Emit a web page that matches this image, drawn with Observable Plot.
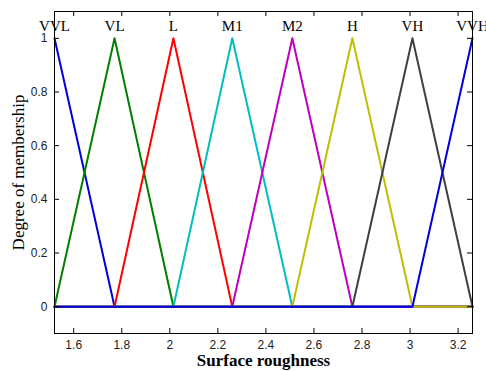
<!DOCTYPE html>
<html>
<head>
<meta charset="utf-8">
<script src="https://cdn.jsdelivr.net/npm/d3@7"></script>
<script src="https://cdn.jsdelivr.net/npm/@observablehq/plot@0.6"></script>
<style>
  body { margin: 0; background: #fff; }
</style>
</head>
<body>
<div id="chart"></div>
<script>
// Triangular membership functions for surface roughness
const names = ["VVL", "VL", "L", "M1", "M2", "H", "VH", "VVH"];
const peaks = [1.52, 1.77, 2.015, 2.26, 2.51, 2.76, 3.01, 3.26];
const peakDegree = 1;
const colors = ["#0000e0", "#008000", "#ff0000", "#00bfbf", "#bf00bf", "#bfbf00", "#404040", "#0000e0"];
const xTicks = [1.6, 1.8, 2, 2.2, 2.4, 2.6, 2.8, 3, 3.2];
const yTicks = [0, 0.2, 0.4, 0.6, 0.8, 1];
const xDomain = [1.52, 3.26];
const yDomain = [-0.1, 1.1];
const xLabel = "Surface roughness";
const yLabel = "Degree of membership";

const W = 486, H = 371;
const mL = 54, mR = 14, mT = 11, mB = 38;
const innerW = W - mL - mR, innerH = H - mT - mB;
const tickLen = 5;

// Each function is drawn across the whole universe, zero outside its support
function mfPoints(i) {
  const pts = [];
  if (i > 0) {
    pts.push({x: xDomain[0], y: 0});
    pts.push({x: peaks[i - 1], y: 0});
  }
  pts.push({x: peaks[i], y: peakDegree});
  if (i < peaks.length - 1) {
    pts.push({x: peaks[i + 1], y: 0});
    pts.push({x: xDomain[1], y: 0});
  }
  return pts;
}

const mfs = names.map((name, i) => ({name, peak: peaks[i], degree: peakDegree}));

const lines = names.map((name, i) =>
  Plot.line(mfPoints(i), {x: "x", y: "y", stroke: colors[i], strokeWidth: 2})
);

const tickFont = {fontFamily: "Liberation Sans, Arial, sans-serif", fontSize: 12, fill: "#222"};
const serif = "Liberation Serif, Times New Roman, serif";

const chart = Plot.plot({
  width: W,
  height: H,
  marginLeft: mL,
  marginRight: mR,
  marginTop: mT,
  marginBottom: mB,
  style: {background: "#fff"},
  x: {domain: xDomain},
  y: {domain: yDomain},
  marks: [
    ...lines,
    Plot.frame({stroke: "#000", strokeWidth: 1}),
    // inward ticks on all four sides
    Plot.tickX(xTicks, {x: d => d, insetTop: innerH - tickLen, stroke: "#000"}),
    Plot.tickX(xTicks, {x: d => d, insetBottom: innerH - tickLen, stroke: "#000"}),
    Plot.tickY(yTicks, {y: d => d, insetRight: innerW - tickLen, stroke: "#000"}),
    Plot.tickY(yTicks, {y: d => d, insetLeft: innerW - tickLen, stroke: "#000"}),
    Plot.axisX({ticks: xTicks, tickSize: 0, tickPadding: 7, tickFormat: d => String(d), label: null, ...tickFont}),
    Plot.axisY({ticks: yTicks, tickSize: 0, tickPadding: 7, tickFormat: d => String(d), label: null, ...tickFont}),
    Plot.text(mfs, {
      x: "peak", y: "degree", text: "name",
      dy: -7, lineAnchor: "bottom", textAnchor: "middle",
      fontFamily: serif, fontSize: 15, fill: "#000"
    }),
    Plot.text([xLabel], {
      text: d => d, frameAnchor: "bottom", dy: 32, lineAnchor: "bottom", textAnchor: "middle",
      fontFamily: serif, fontSize: 17, fontWeight: "bold", fill: "#000"
    }),
    Plot.text([yLabel], {
      text: d => d, frameAnchor: "left", dx: -31, rotate: -90, lineAnchor: "bottom", textAnchor: "middle",
      fontFamily: serif, fontSize: 17, fill: "#000"
    })
  ]
});

document.getElementById("chart").appendChild(chart);
</script>
</body>
</html>
